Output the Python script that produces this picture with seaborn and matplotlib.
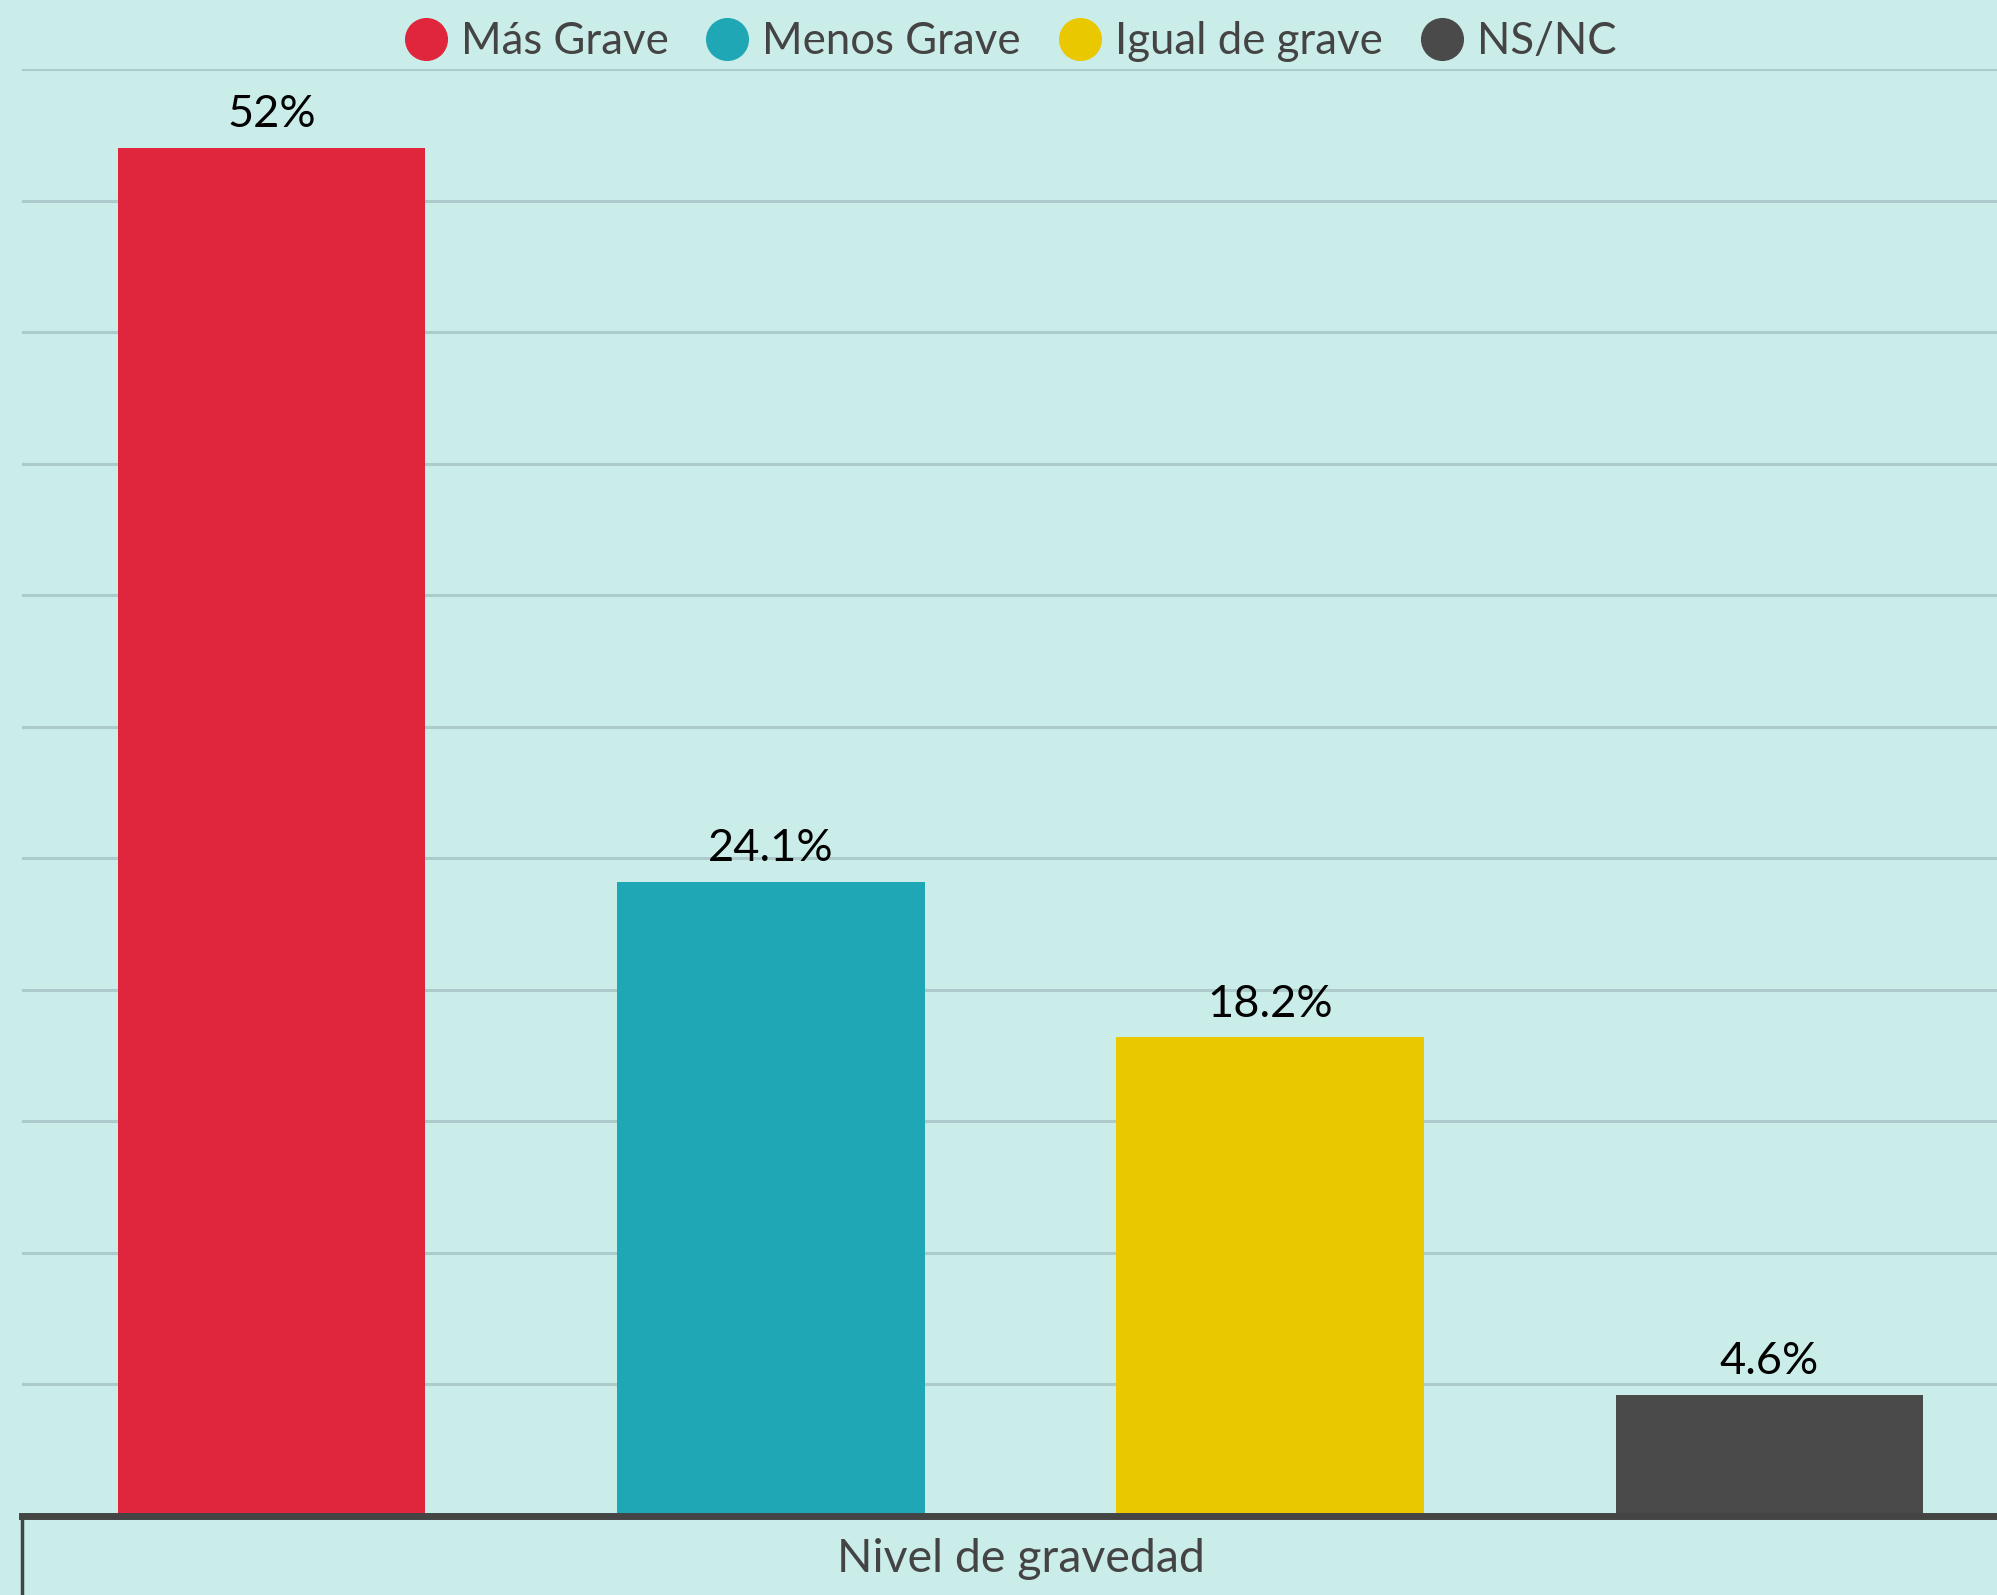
import matplotlib
matplotlib.use("Agg")
import matplotlib.pyplot as plt
import seaborn as sns
from matplotlib.lines import Line2D

# ------------------------------
# Data
# ------------------------------
category = "Nivel de gravedad"
series = ["Más Grave", "Menos Grave", "Igual de grave", "NS/NC"]
values = [52, 24.1, 18.2, 4.6]
value_labels = ["52%", "24.1%", "18.2%", "4.6%"]
colors = ["#E0263D", "#1FA7B5", "#EAC800", "#4A4A4A"]

bg = "#CBEDE9"
grid_col = "#AECBCB"
text_col = "#444444"

# ------------------------------
# Style
# ------------------------------
sns.set_theme(style="white")
plt.rcParams["font.family"] = ["Lato", "DejaVu Sans"]

fig = plt.figure(figsize=(19.97, 15.95), dpi=100, facecolor=bg)
ax = fig.add_axes([22 / 1997, 79 / 1595, 1997 / 1997, 1447 / 1595])
ax.set_facecolor(bg)

sns.barplot(x=[category] * len(series), y=values, hue=series,
            hue_order=series, palette=colors, width=1.0, gap=0.384,
            saturation=1, legend=False, linewidth=0, ax=ax)

ax.set_xlim(-0.5, 0.5)
ax.set_ylim(0, 55)
ax.set_yticks(range(0, 56, 5))
ax.set_yticklabels([])
ax.yaxis.grid(True, color=grid_col, linewidth=2.2)
ax.set_axisbelow(True)
ax.tick_params(axis="both", length=0)
ax.tick_params(axis="x", labelsize=33.5, labelcolor=text_col, pad=16)
ax.set_xlabel("")
ax.set_ylabel("")

for side in ["top", "right", "left"]:
    ax.spines[side].set_visible(False)
ax.spines["bottom"].set_color(text_col)
ax.spines["bottom"].set_linewidth(5)

# value labels on bars
for cont, lab in zip(ax.containers, value_labels):
    ax.bar_label(cont, labels=[lab], padding=9, fontsize=32.5, color="black")

# left border of the category box
ax.plot([0, 0], [0, -0.06], transform=ax.transAxes, color=text_col,
        linewidth=2.5, clip_on=False)

# legend with circle markers
handles = [Line2D([0], [0], marker="o", linestyle="", markersize=30,
                  markerfacecolor=c, markeredgecolor=c) for c in colors]
fig.legend(handles, series, loc="center", bbox_to_anchor=(1010 / 1997, 1 - 42 / 1595),
           ncol=4, frameon=False, fontsize=31.5, labelcolor=text_col,
           handletextpad=0.3, columnspacing=0.85, handlelength=1.0)

fig.savefig("out.png", dpi=100, facecolor=bg)
